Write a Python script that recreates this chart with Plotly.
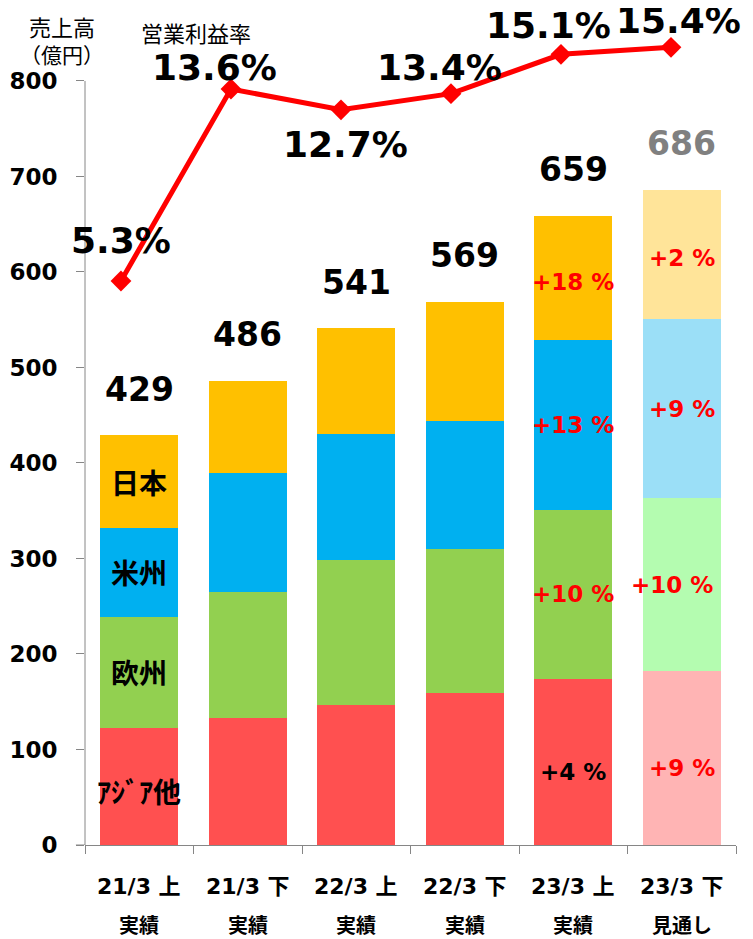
import plotly.graph_objects as go

categories = ["21/3 上", "21/3 下", "22/3 上", "22/3 下", "23/3 上", "23/3 下"]
sub_labels = ["実績", "実績", "実績", "実績", "実績", "見通し"]

asia = [123, 133, 147, 159, 174, 182]
europe = [116, 132, 151, 151, 177, 181]
americas = [93, 124, 132, 134, 178, 188]
japan = [97, 97, 111, 125, 130, 135]
totals = [429, 486, 541, 569, 659, 686]

margin_pct = [5.3, 13.6, 12.7, 13.4, 15.1, 15.4]
margin_text = ["5.3%", "13.6%", "12.7%", "13.4%", "15.1%", "15.4%"]

region_names = ["ｱｼﾞｱ他", "欧州", "米州", "日本"]
growth_2335 = ["+4 %", "+10 %", "+13 %", "+18 %"]   # 23/3 上
growth_2336 = ["+9 %", "+10 %", "+9 %", "+2 %"]     # 23/3 下

y_ticks = [0, 100, 200, 300, 400, 500, 600, 700, 800]

# styles
seg_colors = ["#FF5050", "#92D050", "#00B0F0", "#FFC000"]
seg_light = ["#FFB4B4", "#B4FCB0", "#9BDFF7", "#FFE499"]
series = [asia, europe, americas, japan]

FONT = "DejaVu Sans, Noto Sans CJK JP, sans-serif"
CJK = "Noto Sans CJK JP, sans-serif"
AXIS_GRAY = "#868686"

fig = go.Figure()
for vals, c, lc, name in zip(series, seg_colors, seg_light, region_names):
    cols = [c] * (len(vals) - 1) + [lc]
    fig.add_trace(go.Bar(x=categories, y=vals, name=name, width=0.72,
                         marker=dict(color=cols, line=dict(width=0)),
                         hoverinfo="skip"))

fig.add_trace(go.Scatter(x=list(range(len(margin_pct))), y=margin_pct,
                         xaxis="x2", yaxis="y2", mode="lines+markers",
                         line=dict(color="#FF0000", width=5),
                         marker=dict(symbol="diamond", size=16, color="#FF0000"),
                         hoverinfo="skip"))

ann = []
# totals
for i, (c, t) in enumerate(zip(categories, totals)):
    ann.append(dict(x=c, y=t, xref="x", yref="y", text=str(t), showarrow=False,
                    yanchor="middle", yshift=46,
                    font=dict(family=FONT, size=33, weight="bold",
                              color="#808080" if i == len(totals) - 1 else "#000000")))

# margin labels
m_off = [(0, 41), (-16, 22), (5, -35), (-11, 26), (-12, 29), (8, 27)]
for i, (v, t) in enumerate(zip(margin_pct, margin_text)):
    dx, dy = m_off[i]
    ann.append(dict(x=i, y=v, xref="x2", yref="y2", text=t, showarrow=False,
                    yanchor="middle", xanchor="center", xshift=dx, yshift=dy,
                    font=dict(family=FONT, size=36, weight="bold", color="#000000")))

# segment labels
def seg_mid(idx):
    mids = []
    base = 0
    for s in series:
        mids.append(base + s[idx] / 2)
        base += s[idx]
    return mids

mids0 = seg_mid(0)
for k, (name, m) in enumerate(zip(region_names, mids0)):
    ann.append(dict(x=categories[0], y=m, xref="x", yref="y", text=name, showarrow=False,
                    yanchor="middle", yshift=-5 if k == 0 else 0,
                    font=dict(family=CJK, size=28, weight="bold", color="#000000")))

mids4 = seg_mid(4)
for k, (g, m) in enumerate(zip(growth_2335, mids4)):
    ann.append(dict(x=categories[4], y=m, xref="x", yref="y", text=g, showarrow=False,
                    yanchor="middle", yshift=-10 if k == 0 else (-4 if k == 3 else 0),
                    font=dict(family=FONT, size=23, weight="bold",
                              color="#000000" if k == 0 else "#FF0000")))
mids5 = seg_mid(5)
for k, (g, m) in enumerate(zip(growth_2336, mids5)):
    ann.append(dict(x=categories[5], y=m, xref="x", yref="y", text=g, showarrow=False,
                    yanchor="middle", yshift=-10 if k == 0 else (-4 if k == 3 else 0),
                    xshift=-10 if k == 1 else 0,
                    font=dict(family=FONT, size=23, weight="bold", color="#FF0000")))

# category labels (two lines)
for c, s in zip(categories, sub_labels):
    ann.append(dict(x=c, y=0, xref="x", yref="paper", text=c, showarrow=False,
                    yanchor="middle", yshift=-41,
                    font=dict(family=FONT, size=22, weight="bold", color="#000000")))
    ann.append(dict(x=c, y=0, xref="x", yref="paper", text=s, showarrow=False,
                    yanchor="middle", yshift=-79,
                    font=dict(family=CJK, size=20, weight="bold", color="#000000")))

# axis titles
ann.append(dict(x=0, y=1, xref="paper", yref="paper", text="売上高", showarrow=False,
                xanchor="center", yanchor="middle", xshift=-23, yshift=-16,
                font=dict(family=CJK, size=22, color="#000000")))
ann.append(dict(x=0, y=1, xref="paper", yref="paper", text="（億円）", showarrow=False,
                xanchor="center", yanchor="middle", xshift=-23, yshift=-44,
                font=dict(family=CJK, size=21, color="#000000")))
ann.append(dict(x=0, y=1, xref="paper", yref="paper", text="営業利益率", showarrow=False,
                xanchor="center", yanchor="middle", xshift=111, yshift=-22,
                font=dict(family=CJK, size=22, color="#000000")))

# page body has an 8px margin, so the figure is reduced by 8px and the margins shifted
fig.update_layout(
    width=745, height=931,
    margin=dict(l=77, r=17, t=2, b=94),
    barmode="stack",
    showlegend=False,
    plot_bgcolor="white", paper_bgcolor="white",
    annotations=ann,
    xaxis=dict(type="category", range=[-0.5, 5.5], showticklabels=False,
               ticks="outside", tickson="boundaries", ticklen=8, tickcolor=AXIS_GRAY,
               showline=True, linecolor=AXIS_GRAY, linewidth=1, showgrid=False,
               zeroline=False, fixedrange=True),
    xaxis2=dict(overlaying="x", range=[-0.327, 5.591], visible=False, anchor="y"),
    yaxis=dict(range=[0, 874.3], tickvals=y_ticks, ticks="outside", ticklen=8,
               tickcolor=AXIS_GRAY, showline=False, showgrid=False, zeroline=False,
               ticklabelstandoff=14,
               tickfont=dict(family=FONT, size=23, weight="bold", color="#000000")),
    yaxis2=dict(overlaying="y", range=[-19.08, 17.015], visible=False, anchor="x"),
    shapes=[dict(type="line", xref="paper", yref="y", x0=0, x1=0, y0=0, y1=800,
                 line=dict(color=AXIS_GRAY, width=1)),
            dict(type="line", xref="paper", yref="y", x0=-0.014, x1=0, y0=0, y1=0,
                 line=dict(color=AXIS_GRAY, width=1))],
)

fig.write_html("out.html")
